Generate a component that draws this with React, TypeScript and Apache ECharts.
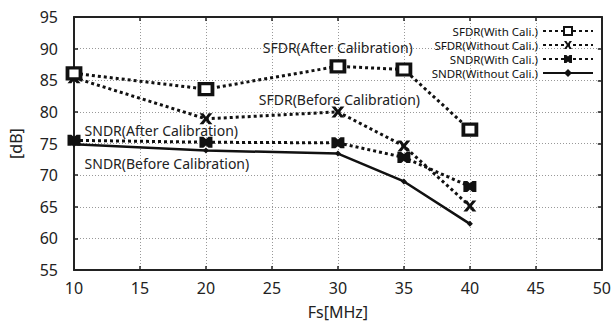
import React, { useEffect, useRef } from "react";
import * as echarts from "echarts";

const fsMHz = [10, 20, 30, 35, 40];
const sfdrWithCali = [86.1, 83.6, 87.2, 86.7, 77.2];
const sfdrWithoutCali = [85.4, 78.9, 80.0, 74.6, 65.1];
const sndrWithCali = [75.5, 75.2, 75.1, 72.8, 68.2];
const sndrWithoutCali = [74.9, 73.9, 73.4, 69.0, 62.3];
const xTicks = { min: 10, max: 50, interval: 5 };
const yTicks = { min: 55, max: 95, interval: 5 };
const annotations = [
  { text: "SFDR(After Calibration)", x: 24.3, y: 90.1 },
  { text: "SFDR(Before Calibration)", x: 24.0, y: 82.0 },
  { text: "SNDR(After Calibration)", x: 10.8, y: 77.1 },
  { text: "SNDR(Before Calibration)", x: 10.8, y: 71.9 },
];

const FONT = "Noto Sans";
const X_SYM = "path://M0,0 L3,0 L5,3 L7,0 L10,0 L6.5,5 L10,10 L7,10 L5,7 L3,10 L0,10 L3.5,5 Z";
const BOW_SYM = "path://M0,0 L3,0 L5,2 L7,0 L10,0 L10,10 L7,10 L5,8 L3,10 L0,10 Z";

const pairs = (ys: number[]) => fsMHz.map((x, i) => [x, ys[i]]);

export default function App() {
  const ref = useRef<HTMLDivElement>(null);
  useEffect(() => {
    const chart = echarts.init(ref.current!, null, { renderer: "svg" });
    const dotted = { color: "#111", width: 3, type: [3, 3] as any };
    const axisCommon = {
      axisLine: { show: true, lineStyle: { color: "#222", width: 2 } },
      axisTick: { show: true, inside: true, length: 4, lineStyle: { color: "#222", width: 1.5 } },
      splitLine: { show: true, lineStyle: { color: "#999", width: 1, type: [1, 2] as any } },
    };
    chart.setOption({
      animation: false,
      backgroundColor: "#fff",
      grid: { left: 73, right: 12, top: 17, bottom: 55, containLabel: false },
      legend: {
        orient: "vertical",
        right: 20,
        top: 25,
        align: "right",
        itemGap: 2,
        itemWidth: 50,
        itemHeight: 10,
        padding: 0,
        textStyle: { fontFamily: FONT, fontSize: 11.5, lineHeight: 11, color: "#111", padding: [0, 0, 0, 0] },
        data: ["SFDR(With Cali.)", "SFDR(Without Cali.)", "SNDR(With Cali.)", "SNDR(Without Cali.)"],
      },
      xAxis: [
        {
          type: "value", ...xTicks, ...axisCommon,
          name: "Fs[MHz]", nameLocation: "middle", nameGap: 34,
          nameTextStyle: { fontFamily: FONT, fontSize: 16, color: "#222" },
          axisLabel: { fontFamily: FONT, fontSize: 16, color: "#222", margin: 10 },
        },
        {
          type: "value", position: "top", ...xTicks, ...axisCommon,
          axisLabel: { show: false }, splitLine: { show: false },
        },
      ],
      yAxis: [
        {
          type: "value", ...yTicks, ...axisCommon,
          name: "[dB]", nameLocation: "middle", nameGap: 50, nameRotate: 90,
          nameTextStyle: { fontFamily: FONT, fontSize: 16, color: "#222" },
          axisLabel: { fontFamily: FONT, fontSize: 16, color: "#222", margin: 16 },
        },
        {
          type: "value", position: "right", ...yTicks, ...axisCommon,
          axisLabel: { show: false }, splitLine: { show: false },
        },
      ],
      series: [
        {
          name: "SFDR(With Cali.)", type: "line", data: pairs(sfdrWithCali),
          lineStyle: dotted, symbol: "rect", symbolSize: [13, 11],
          itemStyle: { color: "#fff", borderColor: "#111", borderWidth: 3.5 }, z: 5,
        },
        {
          name: "SFDR(Without Cali.)", type: "line", data: pairs(sfdrWithoutCali),
          lineStyle: dotted, symbol: X_SYM, symbolSize: [13, 11],
          itemStyle: { color: "#111" }, z: 4,
        },
        {
          name: "SNDR(With Cali.)", type: "line", data: pairs(sndrWithCali),
          lineStyle: dotted, symbol: BOW_SYM, symbolSize: [13, 11],
          itemStyle: { color: "#111" }, z: 3,
        },
        {
          name: "SNDR(Without Cali.)", type: "line", data: pairs(sndrWithoutCali),
          lineStyle: { color: "#111", width: 2.5 }, symbol: "diamond", symbolSize: 6,
          itemStyle: { color: "#111" }, z: 2,
        },
      ],
    });
    const graphic = annotations.map((a) => {
      const [px, py] = chart.convertToPixel({ gridIndex: 0 }, [a.x, a.y]) as number[];
      return {
        type: "text", x: px, y: py,
        style: {
          text: a.text, fill: "#222", fontFamily: FONT, fontSize: 14,
          verticalAlign: "middle",
        },
        z: 10,
      };
    });
    chart.setOption({ graphic });
    return () => chart.dispose();
  }, []);
  return <div ref={ref} style={{ width: 614, height: 325, position: "absolute", left: 0, top: 0 }} />;
}
